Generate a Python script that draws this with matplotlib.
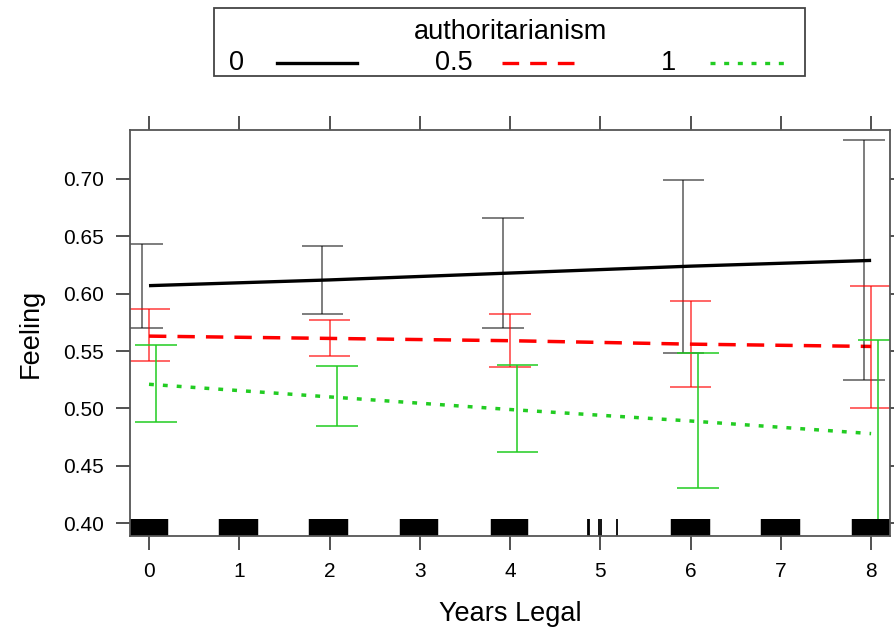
import matplotlib
matplotlib.use("Agg")
import matplotlib.pyplot as plt
from matplotlib.lines import Line2D
from matplotlib.patches import Rectangle

plt.rcParams['font.family'] = ['Liberation Sans', 'DejaVu Sans']

# effect estimates at the plotted years
years = [0, 2, 4, 6, 8]
fit_0 = [0.607, 0.612, 0.618, 0.624, 0.629]
fit_05 = [0.563, 0.561, 0.559, 0.556, 0.554]
fit_1 = [0.521, 0.510, 0.499, 0.489, 0.478]

# confidence limits
lo_0 = [0.570, 0.582, 0.570, 0.548, 0.525]
hi_0 = [0.643, 0.642, 0.666, 0.699, 0.734]
lo_05 = [0.541, 0.546, 0.536, 0.519, 0.500]
hi_05 = [0.587, 0.577, 0.582, 0.594, 0.607]
lo_1 = [0.488, 0.485, 0.462, 0.431, 0.397]
hi_1 = [0.555, 0.537, 0.538, 0.548, 0.560]

# jittered observed years for the rug (dense clusters, then the few year-5 cases)
rug_x = [
    -0.20, -0.17, -0.14, -0.11, -0.08, -0.05, -0.02, 0.01, 0.04, 0.07, 0.10, 0.13, 0.16, 0.185,
    0.80, 0.83, 0.86, 0.89, 0.92, 0.95, 0.98, 1.01, 1.04, 1.07, 1.10, 1.13, 1.16, 1.185,
    1.80, 1.83, 1.86, 1.89, 1.92, 1.95, 1.98, 2.01, 2.04, 2.07, 2.10, 2.13, 2.16, 2.185,
    2.80, 2.83, 2.86, 2.89, 2.92, 2.95, 2.98, 3.01, 3.04, 3.07, 3.10, 3.13, 3.16, 3.185,
    3.81, 3.84, 3.87, 3.90, 3.93, 3.96, 4.00, 4.03, 4.06, 4.09, 4.12, 4.15, 4.18,
    5.80, 5.83, 5.87, 5.90, 5.93, 5.96, 5.99, 6.02, 6.05, 6.08, 6.11, 6.14, 6.17, 6.19,
    6.80, 6.83, 6.86, 6.895, 6.92, 6.95, 6.98, 7.01, 7.04, 7.07, 7.10, 7.13, 7.16, 7.195,
    7.81, 7.84, 7.87, 7.90, 7.93, 7.96, 7.99, 8.02, 8.05, 8.08, 8.11, 8.14, 8.17, 8.20,
]
rug_x_sparse = [4.86, 4.88, 4.99, 5.01, 5.18]

fig = plt.figure(figsize=(8.95, 6.33), dpi=100)
ax = fig.add_axes([0.1453, 0.1532, 0.8492, 0.6414])

black = '#000000'
red = '#ff0000'
green = '#22cc22'

ax.plot(years, fit_0, color=black, lw=2.4, solid_capstyle='butt')
ax.plot(years, fit_05, color=red, lw=2.5, dashes=(5.0, 3.2))
ax.plot(years, fit_1, color=green, lw=2.5, dashes=(1.4, 2.6))

groups = [
    (fit_0, lo_0, hi_0, -0.08, black, 0.55),
    (fit_05, lo_05, hi_05, 0.0, red, 0.65),
    (fit_1, lo_1, hi_1, 0.08, green, 0.85),
]
for fit, lo, hi, off, col, a in groups:
    xs = [x + off for x in years]
    ax.vlines(xs, lo, hi, color=col, lw=1.3, alpha=a)
    ax.hlines(lo, [x - 0.23 for x in xs], [x + 0.23 for x in xs], color=col, lw=1.3, alpha=a)
    ax.hlines(hi, [x - 0.23 for x in xs], [x + 0.23 for x in xs], color=col, lw=1.3, alpha=a)

ax.vlines(rug_x, 0, 0.043, transform=ax.get_xaxis_transform(), color='black', lw=3.2)
ax.vlines(rug_x_sparse, 0, 0.043, transform=ax.get_xaxis_transform(), color='black', lw=1.3)

ax.set_xlim(-0.21, 8.21)
ax.set_ylim(0.3887, 0.7427)
ax.set_xticks(range(9))
ax.set_yticks([0.40, 0.45, 0.50, 0.55, 0.60, 0.65, 0.70])
ax.set_yticklabels(['0.40', '0.45', '0.50', '0.55', '0.60', '0.65', '0.70'])
ax.tick_params(top=True, right=True, direction='out', length=10, width=1.2,
               color='#333333', labelsize=15, pad=9)
for s in ax.spines.values():
    s.set_color('#555555')
    s.set_linewidth(1.3)

ax.set_xlabel('Years Legal', fontsize=19.5, labelpad=14)
ax.set_ylabel('Feeling', fontsize=19.5, labelpad=14)

# legend box
fig.add_artist(Rectangle((0.239, 0.880), 0.6604, 0.1074, transform=fig.transFigure,
                         fill=False, edgecolor='#444444', lw=1.3))
fig.text(0.570, 0.9494, 'authoritarianism', fontsize=19.5, ha='center', va='center')
row_y = 0.9005
fig.text(0.2648, row_y, '0', fontsize=19.5, ha='center', va='center')
fig.text(0.5073, row_y, '0.5', fontsize=19.5, ha='center', va='center')
fig.text(0.7464, row_y, '1', fontsize=19.5, ha='center', va='center')
fig.add_artist(Line2D([0.3095, 0.3989], [row_y, row_y], transform=fig.transFigure,
                      color=black, lw=2.4))
fig.add_artist(Line2D([0.5609, 0.648], [row_y, row_y], transform=fig.transFigure,
                      color=red, lw=2.4, dashes=(5.0, 3.3)))
fig.add_artist(Line2D([0.7933, 0.8793], [row_y, row_y], transform=fig.transFigure,
                      color=green, lw=2.4, dashes=(1.5, 2.6)))

fig.savefig('out.png', dpi=100)
